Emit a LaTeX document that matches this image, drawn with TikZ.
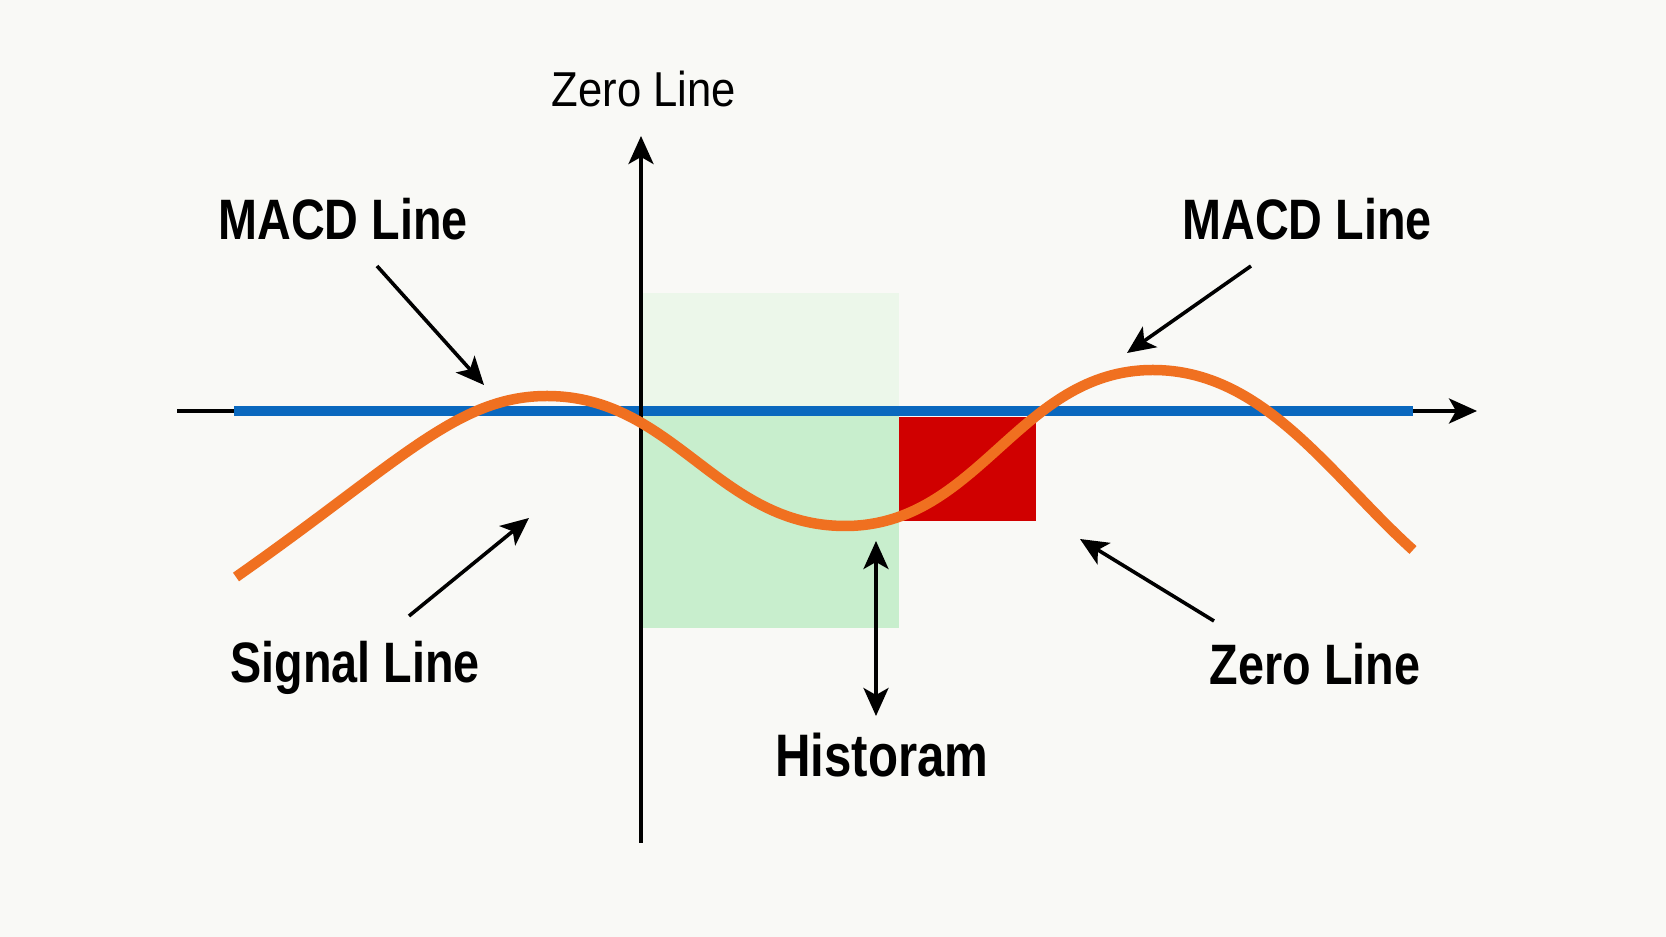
\documentclass[tikz,border=0pt]{standalone}
\usepackage{fontspec}
\setmainfont{Liberation Sans}
\newfontfamily\lblfont[FakeStretch=0.82]{Liberation Sans}
\newfontfamily\regfont[FakeStretch=0.89]{Liberation Sans}
\usetikzlibrary{arrows.meta}
\definecolor{bgc}{RGB}{249,249,246}
\definecolor{macdblue}{RGB}{10,104,190}
\definecolor{sigorange}{RGB}{240,112,32}
\definecolor{histred}{RGB}{208,0,0}
\definecolor{greenlight}{RGB}{236,247,234}
\definecolor{greenmid}{RGB}{200,238,205}
\tikzset{
  boldlbl/.style={font=\lblfont\bfseries\fontsize{57}{60}\selectfont, anchor=base, inner sep=0pt},
  reglbl/.style={font=\regfont\fontsize{49}{52}\selectfont, anchor=base, inner sep=0pt},
  tip/.tip={Stealth[length=28pt,width=25pt,inset=7pt]},
  axisline/.style={line width=3.6pt, -tip},
  ptr/.style={line width=3.6pt, -tip},
  dptr/.style={line width=3.6pt, tip-tip},
}
\begin{document}
\begin{tikzpicture}[x=1pt,y=1pt]
\useasboundingbox (0,0) rectangle (1666,937);
\fill[bgc] (0,0) rectangle (1666,937);
% histogram shading
\fill[greenlight] (643,526) rectangle (899,644);
\fill[greenmid] (643,309) rectangle (899,526);
\fill[histred] (899,416) rectangle (1036,520);
% axes
\coordinate (hstart) at (177,526);
\coordinate (hend) at (1477,526);
\coordinate (vstart) at (641,94);
\coordinate (vend) at (641,801);
\draw[axisline] (hstart) -- (hend);
\draw[macdblue, line width=9.5pt] (234,526) -- (1413,526);
\draw[axisline] (vstart) -- (vend);
% signal / macd curve
\draw[sigorange, line width=10.5pt]
  (236,360) .. controls (400,475) and (457,541) .. (547,541)
  to[out=0,in=180] (845,411)
  to[out=0,in=180] (1153,567)
  to[out=0,in=138,looseness=0.9] (1413,387);
% labels
\node[reglbl] (zerotop) at (644,830) {Zero Line};
\node[boldlbl] (macdl) at (343,697) {MACD Line};
\node[boldlbl] (macdr) at (1307,697) {MACD Line};
\node[boldlbl] (signal) at (355,254) {Signal Line};
\node[boldlbl] (zeror) at (1315,252) {Zero Line};
\node[boldlbl, font=\lblfont\bfseries\fontsize{60}{62}\selectfont] (hist) at (882,160) {Historam};
% pointers
\coordinate (p1s) at (377,671); \coordinate (p1t) at (484,552);
\coordinate (p2s) at (409,321); \coordinate (p2t) at (529,419);
\coordinate (p3s) at (876,221); \coordinate (p3t) at (876,396);
\coordinate (p4s) at (1214,316); \coordinate (p4t) at (1080,398);
\coordinate (p5s) at (1251,671); \coordinate (p5t) at (1127,584);
\draw[ptr] (p1s) -- (p1t);
\draw[ptr] (p2s) -- (p2t);
\draw[dptr] (p3s) -- (p3t);
\draw[ptr] (p4s) -- (p4t);
\draw[ptr] (p5s) -- (p5t);
\end{tikzpicture}
\end{document}
